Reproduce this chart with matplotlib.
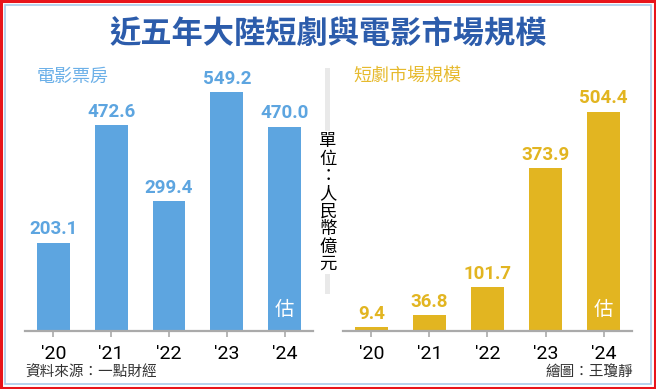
import matplotlib
matplotlib.use("Agg")
import matplotlib.pyplot as plt
from matplotlib.patches import Rectangle

plt.rcParams["font.family"] = ["Noto Sans CJK TC", "DejaVu Sans"]

# data
years = ["'20", "'21", "'22", "'23", "'24"]
box_office = [203.1, 472.6, 299.4, 549.2, 470.0]
short_drama = [9.4, 36.8, 101.7, 373.9, 504.4]

title = "近五年大陸短劇與電影市場規模"
left_name = "電影票房"
right_name = "短劇市場規模"
unit_text = "單位：人民幣億元"
source = "資料來源：一點財經"
credit = "繪圖：王瓊靜"

BLUE = "#5DA5E0"
GOLD = "#E2B521"
TITLE_C = "#2C5CAB"

W, H = 656, 389
fig = plt.figure(figsize=(W / 100, H / 100), dpi=100)


def px_axes(x0, x1, y_base, height):
    # pixel coords measured from the top-left corner
    return fig.add_axes([x0 / W, (H - y_base) / H, (x1 - x0) / W, height / H])


# frame
bg = fig.add_axes([0, 0, 1, 1])
bg.set_xlim(0, W)
bg.set_ylim(H, 0)
bg.axis("off")
bg.add_patch(Rectangle((1, 1), W - 2.5, H - 2.5, fill=False, ec="#E8141B", lw=2.2))
bg.add_patch(Rectangle((4.5, 4.5), W - 9.5, H - 9.5, fill=False, ec="#A9CBEA", lw=1.2))
bg.add_patch(Rectangle((325, 68), 5, 226, color="#E9E9E9", lw=0))

bg.text(W / 2, 35, title, ha="center", va="center", fontsize=22.5,
        color=TITLE_C, fontweight="bold")
bg.text(37, 77, left_name, ha="left", va="center", fontsize=13, color="#6CB0E8")
bg.text(353, 76, right_name, ha="left", va="center", fontsize=13, color="#E6BA2E")

for i, ch in enumerate(unit_text):
    bg.text(328, 141 + i * 17.6, ch, ha="center", va="center", fontsize=12.5,
            color="black", bbox=dict(fc="white", ec="none", pad=0.6))

bg.text(25, 373, source, ha="left", va="center", fontsize=10.5, color="#333333")
bg.text(633, 372, credit, ha="right", va="center", fontsize=10.5, color="#333333")

scale = 0.435  # px per unit (shared by both panels)
ymax = 600


def panel(x0, x1, values, color):
    ax = px_axes(x0, x1, 331, ymax * scale)
    xs = range(len(values))
    ax.bar(xs, values, width=0.57, color=color, zorder=2)
    ax.set_xlim(-0.49, len(values) - 0.51)
    ax.set_ylim(0, ymax)
    for s in ["top", "right", "left"]:
        ax.spines[s].set_visible(False)
    ax.spines["bottom"].set_color("#AAAAAA")
    ax.spines["bottom"].set_linewidth(1.6)
    ax.set_yticks([])
    ax.set_xticks(list(xs))
    ax.set_xticklabels(years, fontsize=14, family=["Roboto", "DejaVu Sans"])
    ax.tick_params(axis="x", length=4, width=1.2, color="#AAAAAA", pad=6)
    ax.patch.set_alpha(0)
    for x, v in zip(xs, values):
        ax.annotate(f"{v:.1f}", (x, v), xytext=(0, 3), textcoords="offset points",
                    ha="center", va="bottom", fontsize=13.5, fontweight="bold",
                    color=color, family=["Roboto", "DejaVu Sans"])
    # estimate mark inside the last bar
    ax.annotate("估", (len(values) - 1, 0), xytext=(0, 8), textcoords="offset points",
                ha="center", va="bottom", fontsize=14, color="white")
    return ax


ax_l = panel(25, 313, box_office, BLUE)
ax_r = panel(343, 632, short_drama, GOLD)

fig.savefig("out.png", dpi=100)
